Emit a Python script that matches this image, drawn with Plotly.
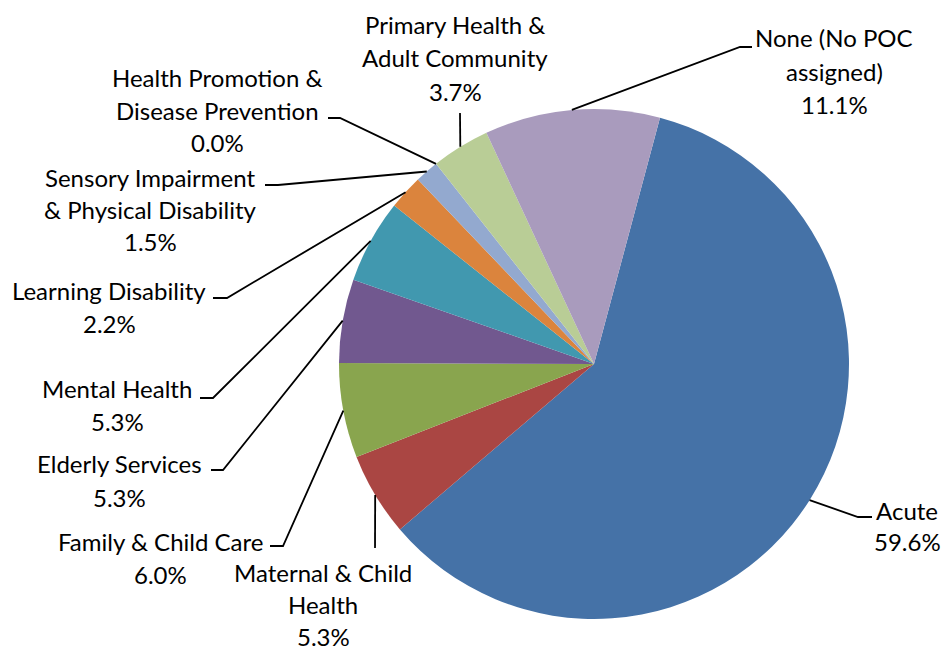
import math
import plotly.graph_objects as go

# Share of records by point of care (percent)
categories = [
    "Acute",
    "Maternal & Child Health",
    "Family & Child Care",
    "Elderly Services",
    "Mental Health",
    "Learning Disability",
    "Sensory Impairment & Physical Disability",
    "Health Promotion & Disease Prevention",
    "Primary Health & Adult Community",
    "None (No POC assigned)",
]
shares = [59.6, 5.3, 6.0, 5.3, 5.3, 2.2, 1.5, 0.0, 3.7, 11.1]
colors = ["#4572A7", "#AA4643", "#89A54E", "#71588F", "#4198AF",
          "#DB843D", "#93A9CF", "#D19392", "#B9CD96", "#A99BBD"]

# How each category name wraps in its label
label_lines = {
    "Maternal & Child Health": ["Maternal & Child", "Health"],
    "Sensory Impairment & Physical Disability": ["Sensory Impairment", "& Physical Disability"],
    "Health Promotion & Disease Prevention": ["Health Promotion &", "Disease Prevention"],
    "Primary Health & Adult Community": ["Primary Health &", "Adult Community"],
    "None (No POC assigned)": ["None (No POC", "assigned)"],
}

# Page geometry (pixels)
W, H = 943, 650
CX, CY, R = 594, 364, 255
ROTATION = 15  # degrees clockwise from 12 o'clock where the first slice begins

# Label placement: text centre x, centre y of each line, and leader-line bend points
placement = {
    "Acute": (907, [510, 541], [(872, 517), (858, 517)]),
    "Maternal & Child Health": (323, [572, 604, 636], [(375, 548)]),
    "Family & Child Care": (160, [541, 574], [(270, 546), (283, 546)]),
    "Elderly Services": (120, [464, 497], [(211, 470), (223, 470)]),
    "Mental Health": (117, [388, 421], [(200, 398), (213, 398)]),
    "Learning Disability": (109, [290, 323], [(213, 298), (227, 298)]),
    "Sensory Impairment & Physical Disability": (150, [177, 210, 242], [(265, 185), (278, 185)]),
    "Health Promotion & Disease Prevention": (217, [77, 110, 143], [(328, 118), (340, 118)]),
    "Primary Health & Adult Community": (455, [25, 57, 91], [(460, 113)]),
    "None (No POC assigned)": (834, [38, 72, 104], [(752, 47), (740, 47)]),
}

FONT = dict(family="Lato, 'Open Sans', sans-serif", size=24, color="#000000")


def px(x, y):
    return x / W, 1 - y / H


fig = go.Figure(
    go.Pie(
        labels=categories,
        values=shares,
        marker=dict(colors=colors, line=dict(width=0)),
        sort=False,
        direction="clockwise",
        rotation=ROTATION,
        textinfo="none",
        hoverinfo="label+percent",
        showlegend=False,
        domain=dict(x=[(CX - R) / W, (CX + R) / W], y=[1 - (CY + R) / H, 1 - (CY - R) / H]),
    )
)

annotations = []
shapes = []
total = sum(shares)
cum = 0.0
for name, v in zip(categories, shares):
    mid = ROTATION + (cum + v / 2) / total * 360
    cum += v
    a = math.radians(mid)
    sx, sy = CX + R * math.sin(a), CY - R * math.cos(a)

    cx, ys, bends = placement[name]
    lines = label_lines.get(name, [name]) + [f"{v:.1f}%"]
    for text, ty in zip(lines, ys):
        x, y = px(cx, ty)
        annotations.append(dict(
            text=text, x=x, y=y, xref="paper", yref="paper",
            xanchor="center", yanchor="middle", showarrow=False, font=FONT,
        ))

    pts = bends + [(sx, sy)]
    path = "M " + " L ".join(f"{px(*p)[0]:.5f},{px(*p)[1]:.5f}" for p in pts)
    shapes.append(dict(type="path", path=path, xref="paper", yref="paper",
                       line=dict(color="#000000", width=1.8)))

fig.update_layout(
    width=W,
    height=H,
    margin=dict(l=0, r=0, t=0, b=0),
    paper_bgcolor="#FFFFFF",
    plot_bgcolor="#FFFFFF",
    annotations=annotations,
    shapes=shapes,
)

fig.write_html("out.html")
